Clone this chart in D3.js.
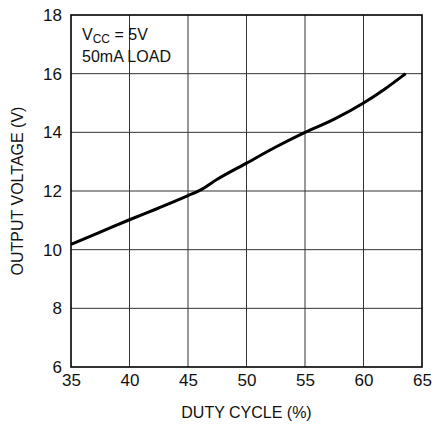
<!DOCTYPE html>
<html><head><meta charset="utf-8">
<script src="https://cdn.jsdelivr.net/npm/d3@7"></script>
<style>body{margin:0;background:#fff}svg{display:block}text{font-family:"Liberation Sans",Arial,sans-serif;fill:#111}</style>
</head><body>
<script>
const dutyCycle = [35, 37.5, 40, 42.5, 45, 46, 47.5, 50, 52.5, 55, 57.5, 60, 61.8, 63.6];
const outputVoltage = [10.18, 10.6, 11.02, 11.42, 11.84, 12.02, 12.4, 12.95, 13.5, 14.0, 14.45, 15.0, 15.47, 16.0];
const xTicks = [35, 40, 45, 50, 55, 60, 65];
const yTicks = [6, 8, 10, 12, 14, 16, 18];

const W = 434, H = 425;
const m = {left: 71, top: 15, right: 12, bottom: 58};
const svg = d3.select("body").append("svg").attr("width", W).attr("height", H);
const x = d3.scaleLinear().domain([35, 65]).range([m.left, W - m.right]);
const y = d3.scaleLinear().domain([6, 18]).range([H - m.bottom, m.top]);

// grid
svg.append("g").selectAll("line").data(xTicks.slice(1, -1)).join("line")
  .attr("x1", d => x(d)).attr("x2", d => x(d)).attr("y1", y(6)).attr("y2", y(18))
  .attr("stroke", "#333").attr("stroke-width", 1);
svg.append("g").selectAll("line").data(yTicks.slice(1, -1)).join("line")
  .attr("y1", d => y(d)).attr("y2", d => y(d)).attr("x1", x(35)).attr("x2", x(65))
  .attr("stroke", "#333").attr("stroke-width", 1);
// frame
svg.append("rect").attr("x", x(35)).attr("y", y(18)).attr("width", x(65) - x(35)).attr("height", y(6) - y(18))
  .attr("fill", "none").attr("stroke", "#000").attr("stroke-width", 1.6);

// axes labels
const xa = svg.append("g").attr("transform", `translate(0,${y(6)})`)
  .call(d3.axisBottom(x).tickValues(xTicks).tickSize(0).tickPadding(7).tickFormat(d3.format("d")));
xa.select(".domain").remove();
const ya = svg.append("g").attr("transform", `translate(${x(35)},0)`)
  .call(d3.axisLeft(y).tickValues(yTicks).tickSize(0).tickPadding(9).tickFormat(d3.format("d")));
ya.select(".domain").remove();
[xa, ya].forEach(a => {
  a.attr("font-family", null).attr("font-size", null);
  a.selectAll("text").attr("font-size", 17).attr("fill", "#111");
});

svg.append("text").attr("x", (x(35) + x(65)) / 2).attr("y", 418).attr("text-anchor", "middle")
  .attr("font-size", 16).text("DUTY CYCLE (%)");
svg.append("text").attr("transform", `translate(22.5,${(y(6) + y(18)) / 2}) rotate(-90)`).attr("text-anchor", "middle")
  .attr("font-size", 16).text("OUTPUT VOLTAGE (V)");

// annotation
const t = svg.append("text").attr("x", 82).attr("y", 39.5).attr("font-size", 16);
t.append("tspan").text("V");
t.append("tspan").attr("font-size", 12).attr("dy", 3).text("CC");
t.append("tspan").attr("dy", -3).text(" = 5V");
svg.append("text").attr("x", 82).attr("y", 61.5).attr("font-size", 16).text("50mA LOAD");

// curve
const line = d3.line().x((d, i) => x(dutyCycle[i])).y(d => y(d)).curve(d3.curveMonotoneX);
svg.append("path").datum(outputVoltage).attr("d", line).attr("fill", "none")
  .attr("stroke", "#000").attr("stroke-width", 3).attr("stroke-linejoin", "round");
</script>
</body></html>
